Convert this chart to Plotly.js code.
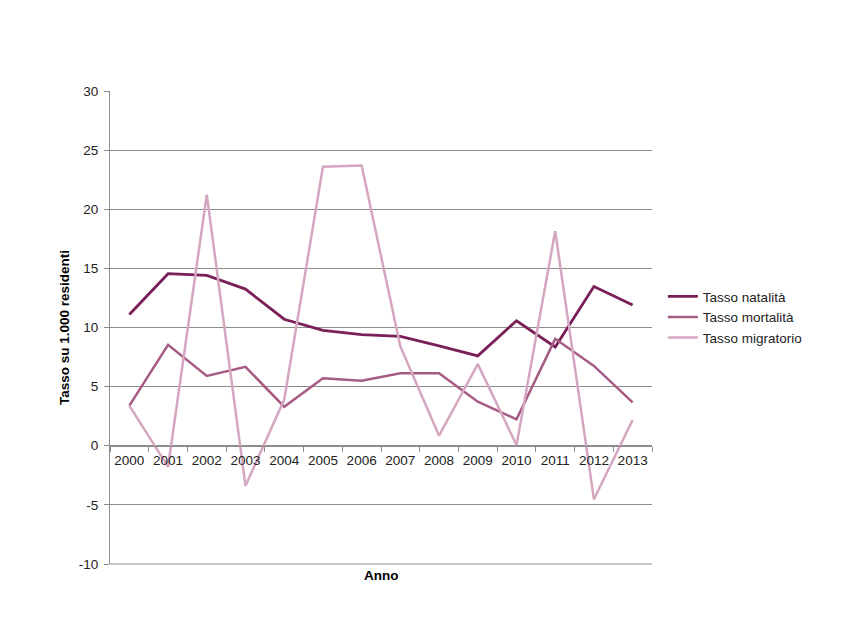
<!DOCTYPE html>
<html>
<head>
<meta charset="utf-8">
<script src="https://cdn.plot.ly/plotly-3.0.1.min.js"></script>
<style>html,body{margin:0;padding:0;background:#fff;}#chart{width:850px;height:638px;}</style>
</head>
<body>
<div id="chart"></div>
<script>
var years = ['2000','2001','2002','2003','2004','2005','2006','2007','2008','2009','2010','2011','2012','2013'];
var natalita = [11.1, 14.55, 14.4, 13.25, 10.7, 9.75, 9.4, 9.25, 8.45, 7.6, 10.57, 8.35, 13.47, 11.9];
var mortalita = [3.4, 8.53, 5.9, 6.67, 3.3, 5.7, 5.5, 6.13, 6.13, 3.73, 2.23, 9.04, 6.75, 3.67];
var migratorio = [3.4, -1.78, 21.24, -3.39, 3.9, 23.6, 23.7, 8.4, 0.85, 6.9, 0.06, 18.15, -4.53, 2.18];
var seriesNames = ['Tasso natalità', 'Tasso mortalità', 'Tasso migratorio'];
var yTicks = [-10, -5, 0, 5, 10, 15, 20, 25, 30];

var traces = [
  {x: years, y: natalita, name: seriesNames[0], type: 'scatter', mode: 'lines', line: {color: '#7A1F57', width: 2.8}},
  {x: years, y: mortalita, name: seriesNames[1], type: 'scatter', mode: 'lines', line: {color: '#A65B84', width: 2.5}},
  {x: years, y: migratorio, name: seriesNames[2], type: 'scatter', mode: 'lines', line: {color: '#D5A6BF', width: 2.5}}
];

var layout = {
  width: 850, height: 638,
  paper_bgcolor: '#fff', plot_bgcolor: '#fff',
  margin: {l: 110, r: 198, t: 91, b: 74},
  font: {family: 'Liberation Sans, Arial, sans-serif', size: 13.5, color: '#222'},
  showlegend: true,
  legend: {x: 1.02, y: 0.598, xanchor: 'left', yanchor: 'top', font: {size: 13.5, color: '#222'}, itemwidth: 30, tracegroupgap: 0, bgcolor: 'rgba(0,0,0,0)'},
  xaxis: {
    type: 'category', range: [-0.5, 13.5], anchor: 'free', position: 0.25,
    showline: true, linecolor: '#8c8c8c', linewidth: 1,
    ticks: 'outside', tickson: 'boundaries', ticklen: 5, tickcolor: '#8c8c8c',
    tickangle: 0, ticklabelstandoff: 2,
    showgrid: false, zeroline: false, fixedrange: true,
    tickfont: {size: 13.5, color: '#222'}
  },
  yaxis: {
    range: [-10, 30], tickvals: yTicks, ticktext: yTicks.map(String),
    showline: true, linecolor: '#8c8c8c', linewidth: 1,
    ticks: 'outside', ticklen: 5, tickcolor: '#8c8c8c', ticklabelstandoff: 3,
    showgrid: true, gridcolor: '#8c8c8c', gridwidth: 1, zeroline: false,
    tickfont: {size: 13.5, color: '#222'},
    title: {text: 'Tasso su 1.000 residenti', font: {size: 13.5, color: '#000', family: 'Liberation Sans, Arial, sans-serif', weight: 'bold'}, standoff: 6}
  },
  shapes: [
    {type: 'line', xref: 'paper', yref: 'paper', x0: 0, x1: 1, y0: 0, y1: 0, line: {color: '#8c8c8c', width: 1}}
  ],
  annotations: [
    {text: '<b>Anno</b>', xref: 'paper', yref: 'paper', x: 0.5, y: -0.004, xanchor: 'center', yanchor: 'top', showarrow: false, font: {size: 13.5, color: '#000'}}
  ]
};

Plotly.newPlot('chart', traces, layout, {displayModeBar: false, staticPlot: true});
</script>
</body>
</html>
